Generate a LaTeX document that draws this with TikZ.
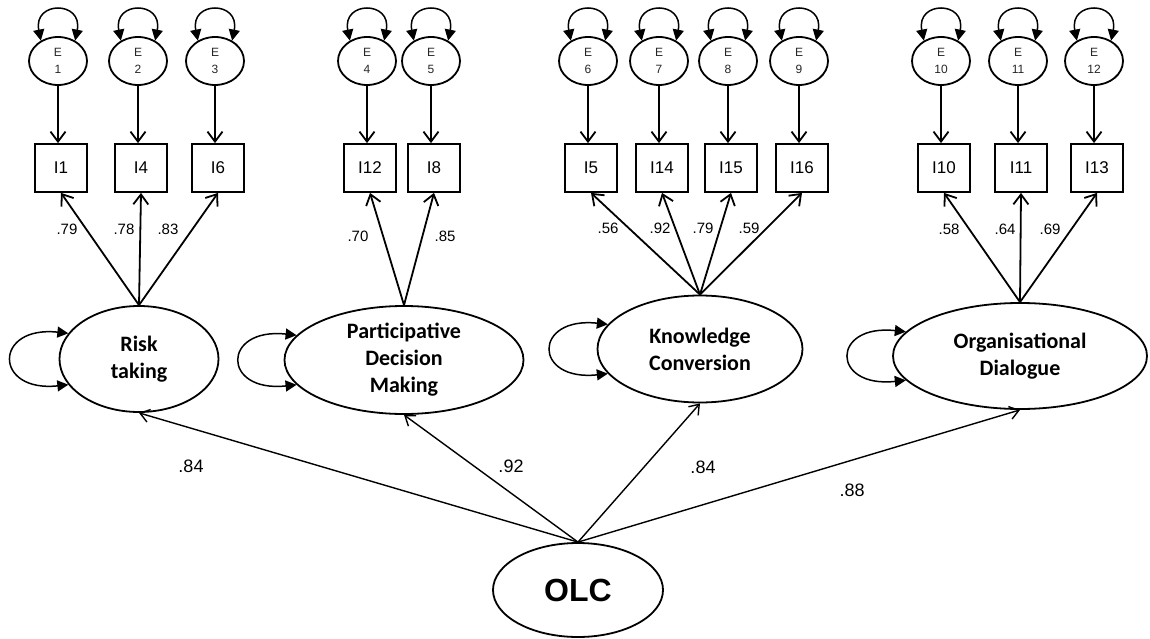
\documentclass[tikz,border=0pt]{standalone}
\usepackage{fontspec}
\setmainfont{Liberation Sans}
\newfontfamily\calibfont{Carlito}
\usetikzlibrary{shapes.geometric, arrows.meta, positioning}
\tikzset{
	errvar/.style ={ellipse, draw=black, line width=1.8pt, minimum width=58pt, minimum height=48pt, inner sep=0pt, align=center, text=black!85, font=\fontsize{12}{17}\selectfont},
	indbox/.style ={rectangle, draw=black, line width=1.8pt, minimum width=52pt, minimum height=48pt, inner sep=0pt, font=\fontsize{17}{19}\selectfont},
	factor/.style ={ellipse, draw=black, line width=1.8pt, inner sep=0pt, align=center, font=\calibfont\bfseries\fontsize{22}{27}\selectfont},
	load/.style   ={-{Straight Barb[length=10pt, width=15pt]}, line width=1.8pt},
	gpath/.style  ={-{Straight Barb[length=9pt, width=13pt]}, line width=1.4pt},
	varloop/.style={{Triangle[length=11pt, width=11pt]}-{Triangle[length=11pt, width=11pt]}, line width=1.5pt},
	coef/.style   ={inner sep=1pt, font=\fontsize{15}{17}\selectfont},
	gcoef/.style  ={inner sep=1pt, font=\fontsize{18}{20}\selectfont},
}
\begin{document}
\begin{tikzpicture}[x=1pt, y=-1pt]
	\useasboundingbox (0,0) rectangle (1150,639);
	% indicators and their error terms
	\foreach \n/\x/\k in {1/61/1, 4/141/2, 6/218/3, 12/370/4, 8/434/5, 5/591/6, 14/662/7, 15/731/8, 16/802/9, 10/944/10, 11/1021/11, 13/1097/12}{
		\node[indbox] (i\n) at (\x,168) {I\n};
		\node[errvar] (e\k) at (\x-3,61) {E\\\k};
		\draw[load] (e\k.south) -- (e\k.south |- i\n.north);
		\draw[varloop] (e\k.130) .. controls +(-8,-40) and +(8,-40) .. (e\k.50);
	}
	% first-order factors
	\node[factor, minimum width=159pt, minimum height=106pt] (risk) at (139,359) {Risk\\taking};
	\node[factor, minimum width=239pt, minimum height=108pt] (pdm) at (404,360) {Participative\\Decision\\Making};
	\node[factor, minimum width=205pt, minimum height=107pt] (kc) at (700,349) {Knowledge\\Conversion};
	\node[factor, minimum width=254pt, minimum height=106pt] (od) at (1020,356) {Organisational\\Dialogue};
	\node[ellipse, draw=black, line width=1.8pt, minimum width=170pt, minimum height=94pt, inner sep=0pt, font=\bfseries\fontsize{32}{36}\selectfont] (olc) at (578,590) {OLC};
	% loadings
	\draw[load] (risk.north) -- (i1.south);
	\draw[load] (risk.north) -- (i4.south);
	\draw[load] (risk.north) -- (i6.south);
	\draw[load] (pdm.north) -- (i12.south);
	\draw[load] (pdm.north) -- (i8.south);
	\draw[load] (kc.north) -- (i5.south);
	\draw[load] (kc.north) -- (i14.south);
	\draw[load] (kc.north) -- (i15.south);
	\draw[load] (kc.north) -- (i16.south);
	\draw[load] (od.north) -- (i10.south);
	\draw[load] (od.north) -- (i11.south);
	\draw[load] (od.north) -- (i13.south);
	% disturbances
	\draw[varloop] (risk.160) .. controls +(-75,-8) and +(-75,8) .. (risk.200);
	\draw[varloop] (pdm.167) .. controls +(-75,-8) and +(-75,8) .. (pdm.193);
	\draw[varloop] (kc.165) .. controls +(-75,-8) and +(-75,8) .. (kc.195);
	\draw[varloop] (od.168) .. controls +(-75,-8) and +(-75,8) .. (od.192);
	% second-order paths
	\draw[gpath] (olc.north) -- (risk.south);
	\draw[gpath] (olc.north) -- (pdm.south);
	\draw[gpath] (olc.north) -- (kc.south);
	\draw[gpath] (olc.north) -- (od.south);
	% coefficients
	\node[coef] (c1) at (67,229) {.79};
	\node[coef] (c2) at (124,229) {.78};
	\node[coef] (c3) at (168,229) {.83};
	\node[coef] (c4) at (358,236) {.70};
	\node[coef] (c5) at (445,236) {.85};
	\node[coef] (c6) at (608,228) {.56};
	\node[coef] (c7) at (660,228) {.92};
	\node[coef] (c8) at (703,228) {.79};
	\node[coef] (c9) at (749,228) {.59};
	\node[coef] (c10) at (949,229) {.58};
	\node[coef] (c11) at (1005,229) {.64};
	\node[coef] (c12) at (1050,229) {.69};
	\node[gcoef] (g1) at (191,466) {.84};
	\node[gcoef] (g2) at (511,466) {.92};
	\node[gcoef] (g3) at (703,467) {.84};
	\node[gcoef] (g4) at (852,490) {.88};
\end{tikzpicture}
\end{document}
